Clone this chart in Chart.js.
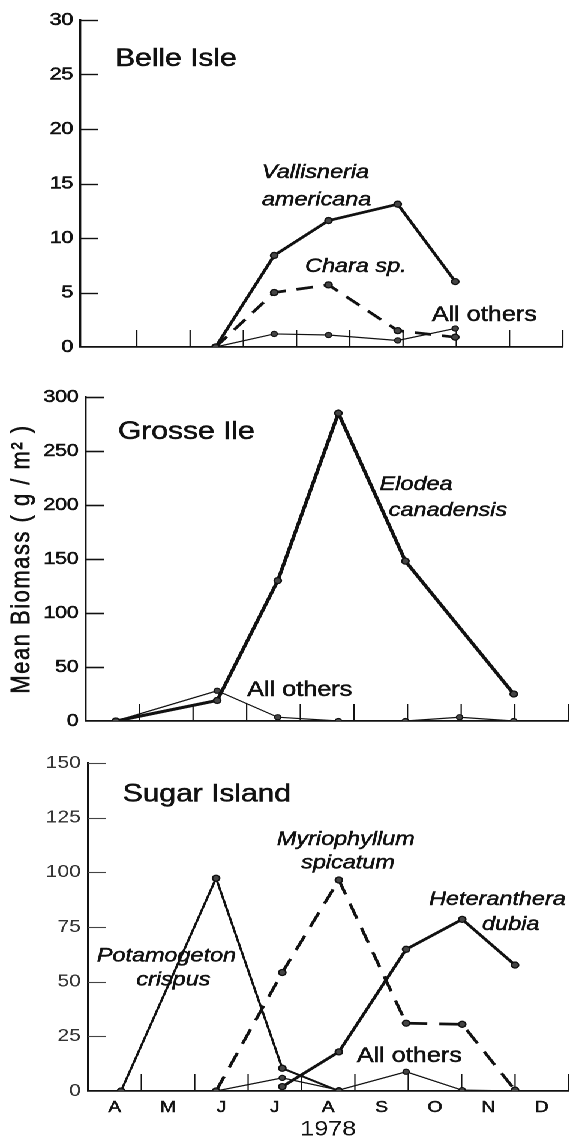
<!DOCTYPE html>
<html>
<head>
<meta charset="utf-8">
<script src="https://cdn.jsdelivr.net/npm/chart.js@4.4.1/dist/chart.umd.min.js"></script>
<style>
  html, body { margin: 0; padding: 0; background: #fff; }
  /* the figure is set slightly wide: draw at 479px and stretch horizontally */
  #sheet { position: relative; width: 479px; height: 1140px; transform: scaleX(1.2); transform-origin: 0 0; }
  #sheet canvas { position: absolute; left: 0; }
</style>
</head>
<body>
<div id="sheet">
  <canvas id="belle" width="479" height="380" style="top:0px"></canvas>
  <canvas id="grosse" width="479" height="360" style="top:380px"></canvas>
  <canvas id="sugar" width="479" height="400" style="top:740px"></canvas>
</div>
<script>
// ---- time axis (months from 1 April 1978) ----
const monthLabels = ['A', 'M', 'J', 'J', 'A', 'S', 'O', 'N', 'D'];
const monthLabelPos = [0.5, 1.5, 2.5, 3.5, 4.5, 5.5, 6.5, 7.5, 8.5];
const monthBounds = [1, 2, 3, 4, 5, 6, 7, 8, 9];
const yearLabel = '1978';

// ---- Belle Isle (g/m²) ----
const belleDates   = [2.48, 3.58, 4.6, 5.9, 6.98];
const vallisneria  = [0, 8.4, 11.6, 13.1, 6.0];
const chara        = [0, 5.0, 5.7, 1.5, 0.9];
const belleOthers  = [0, 1.2, 1.1, 0.6, 1.7];
const belleTicks   = [0, 5, 10, 15, 20, 25, 30];

// ---- Grosse Ile (g/m²) ----
const grosseDates  = [0.56, 2.45, 3.58, 4.71, 5.96, 6.97, 7.98];
const elodea       = [0, 19, 130, 285, 148, null, 25];
const grosseOthers = [0, 28, 3.5, 0, 0, 3.5, 0];
const grosseTicks  = [0, 50, 100, 150, 200, 250, 300];

// ---- Sugar Island (g/m²) ----
const sugarDates   = [0.62, 2.4, 3.64, 4.7, 5.96, 7.01, 8.0];
const potamogeton  = [0, 97.3, 10.4, 0, null, null, null];
const myriophyllum = [null, 0, 54.2, 96.5, 31, 30.5, 0.4];
const heteranthera = [null, null, 2, 17.9, 64.8, 78.5, 57.6];
const sugarOthers  = [null, 0, 6, 0.4, 8.8, 0.4, 0];
const sugarTicks   = [0, 25, 50, 75, 100, 125, 150];

const FONT = '"Liberation Sans", Arial, Helvetica, sans-serif';
const INK = '#111';

function points(dates, values) {
  return dates.map((d, i) => ({ x: d, y: values[i] }));
}

function line(dates, values, opt) {
  return Object.assign({
    data: points(dates, values),
    borderColor: INK,
    borderWidth: 2.7,
    pointRadius: 3,
    pointBackgroundColor: '#444',
    pointBorderColor: INK,
    pointBorderWidth: 1.3,
    tension: 0,
    spanGaps: true,
    fill: false
  }, opt || {});
}

const thin = { borderWidth: 1.2, pointRadius: 2.6, pointBorderWidth: 1.1 };

// short tick marks pointing into the plot, plus text labels placed in data units
function decorations(cfg) {
  return {
    id: 'decor_' + cfg.id,
    beforeDatasetsDraw(chart) {
      const { ctx, chartArea } = chart;
      const xs = chart.scales.x, ys = chart.scales.y;
      ctx.save();
      ctx.strokeStyle = cfg.tickColor;
      ctx.lineWidth = cfg.tickWidth;
      ys.ticks.forEach(t => {
        if (t.value === ys.min) return;
        const py = Math.round(ys.getPixelForValue(t.value)) + 0.5;
        ctx.beginPath();
        ctx.moveTo(chartArea.left, py);
        ctx.lineTo(chartArea.left + 15, py);
        ctx.stroke();
      });
      ctx.strokeStyle = INK;
      ctx.lineWidth = 1.1;
      monthBounds.forEach(m => {
        const px = xs.getPixelForValue(m);
        ctx.beginPath();
        ctx.moveTo(px, chartArea.bottom);
        ctx.lineTo(px, chartArea.bottom - 17);
        ctx.stroke();
      });
      ctx.restore();
    },
    afterDatasetsDraw(chart) {
      const { ctx, chartArea } = chart;
      const xs = chart.scales.x, ys = chart.scales.y;
      ctx.save();
      ctx.fillStyle = INK;
      ctx.strokeStyle = INK;
      ctx.lineWidth = 0.5;
      ctx.textBaseline = 'middle';
      cfg.notes.forEach(n => {
        ctx.font = n.font;
        ctx.textAlign = n.align || 'left';
        ctx.letterSpacing = (n.spacing || 0) + 'px';
        const px = xs.getPixelForValue(n.x), py = ys.getPixelForValue(n.y);
        ctx.fillText(n.text, px, py);
        ctx.strokeText(n.text, px, py);
      });
      if (cfg.yTitle) {
        ctx.translate(cfg.yTitle.x, (chartArea.top + chartArea.bottom) / 2);
        ctx.rotate(-Math.PI / 2);
        ctx.textAlign = 'center';
        ctx.font = cfg.yTitle.font;
        ctx.letterSpacing = cfg.yTitle.spacing + 'px';
        ctx.fillText(cfg.yTitle.text, 0, 0);
        ctx.strokeText(cfg.yTitle.text, 0, 0);
      }
      ctx.restore();
    }
  };
}

function panel(cfg) {
  return new Chart(document.getElementById(cfg.id), {
    type: 'line',
    data: { datasets: cfg.datasets },
    options: {
      responsive: false,
      animation: false,
      devicePixelRatio: 2,
      layout: { padding: cfg.padding },
      plugins: { legend: { display: false }, tooltip: { enabled: false } },
      scales: {
        x: {
          type: 'linear',
          min: cfg.xMin,
          max: 9,
          grid: { display: false, drawTicks: false },
          border: { display: true, color: INK, width: 1.7 },
          afterBuildTicks: s => { s.ticks = monthLabelPos.map(v => ({ value: v })); },
          afterFit: s => { s.height = cfg.xHeight; },
          ticks: {
            display: !!cfg.showMonths,
            autoSkip: false,
            maxRotation: 0,
            padding: 7,
            color: INK,
            textStrokeColor: INK,
            textStrokeWidth: 0.5,
            font: { family: FONT, size: 16 },
            callback: v => monthLabels[Math.floor(v)]
          },
          title: {
            display: !!cfg.showMonths,
            text: yearLabel,
            color: INK,
            font: { family: FONT, size: 21, lineHeight: 1 },
            padding: { top: 0, bottom: 0 }
          }
        },
        y: {
          min: 0,
          max: cfg.yTicks[cfg.yTicks.length - 1],
          grid: { display: false, drawTicks: false },
          border: { display: true, color: INK, width: 1.7 },
          afterBuildTicks: s => { s.ticks = cfg.yTicks.map(v => ({ value: v })); },
          afterFit: s => { s.width = cfg.yWidth; },
          ticks: {
            padding: 6,
            color: cfg.labelColor || INK,
            textStrokeColor: cfg.labelColor || INK,
            textStrokeWidth: cfg.labelStroke,
            font: { family: FONT, size: 17.5 }
          }
        }
      }
    },
    plugins: [decorations(cfg)]
  });
}

const ITALIC = 'italic 19.5px ' + FONT;
const PLAIN = '21px ' + FONT;
const TITLE = '25px ' + FONT;

panel({
  id: 'belle',
  padding: { top: 20, left: 0, right: 479 - 469, bottom: 0 },
  yWidth: 67, xHeight: 33, xMin: -0.06,
  yTicks: belleTicks, labelStroke: 0.6,
  tickColor: INK, tickWidth: 1.4,
  datasets: [
    line(belleDates, vallisneria),
    line(belleDates, chara, { borderDash: [14, 9] }),
    line(belleDates, belleOthers, thin)
  ],
  notes: [
    { text: 'Belle Isle', x: 0.59, y: 26.4, font: TITLE },
    { text: 'Vallisneria', x: 3.35, y: 16.0, font: ITALIC },
    { text: 'americana', x: 3.35, y: 13.5, font: ITALIC },
    { text: 'Chara sp.', x: 4.16, y: 7.4, font: ITALIC },
    { text: 'All others', x: 6.54, y: 2.9, font: PLAIN }
  ]
});

panel({
  id: 'grosse',
  padding: { top: 17, left: 0, right: 479 - 475, bottom: 0 },
  yWidth: 71.5, xHeight: 19, xMin: 0,
  yTicks: grosseTicks, labelStroke: 0.6,
  tickColor: INK, tickWidth: 1.6,
  datasets: [
    line(grosseDates, elodea, { borderWidth: 3.1 }),
    line(grosseDates, grosseOthers, thin)
  ],
  notes: [
    { text: 'Grosse Ile', x: 0.6, y: 267.6, font: TITLE },
    { text: 'Elodea', x: 5.48, y: 219, font: ITALIC },
    { text: 'canadensis', x: 5.65, y: 195, font: ITALIC },
    { text: 'All others', x: 3.01, y: 28.7, font: PLAIN }
  ],
  yTitle: { text: 'Mean Biomass ( g / m² )', x: 18.3, font: '22px ' + FONT, spacing: 1.5 }
});

panel({
  id: 'sugar',
  padding: { top: 23, left: 0, right: 479 - 476.7, bottom: 0 },
  yWidth: 73.3, xHeight: 49, xMin: 0, showMonths: true,
  yTicks: sugarTicks, labelStroke: 0,
  tickColor: '#444', tickWidth: 1.1, labelColor: '#333',
  datasets: [
    line(sugarDates, potamogeton, { borderWidth: 2 }),
    line(sugarDates, myriophyllum, { borderDash: [16, 10] }),
    line(sugarDates, heteranthera),
    line(sugarDates, sugarOthers, thin)
  ],
  notes: [
    { text: 'Sugar Island', x: 0.65, y: 135.6, font: TITLE },
    { text: 'Myriophyllum', x: 4.83, y: 115, font: ITALIC, align: 'center' },
    { text: 'spicatum', x: 4.87, y: 104.2, font: ITALIC, align: 'center' },
    { text: 'Heteranthera', x: 7.67, y: 87.5, font: ITALIC, align: 'center' },
    { text: 'dubia', x: 7.92, y: 76, font: ITALIC, align: 'center' },
    { text: 'Potamogeton', x: 1.47, y: 61.8, font: ITALIC, align: 'center' },
    { text: 'crispus', x: 1.6, y: 50.8, font: ITALIC, align: 'center' },
    { text: 'All others', x: 6.02, y: 15.8, font: PLAIN, align: 'center' }
  ]
});
</script>
</body>
</html>
